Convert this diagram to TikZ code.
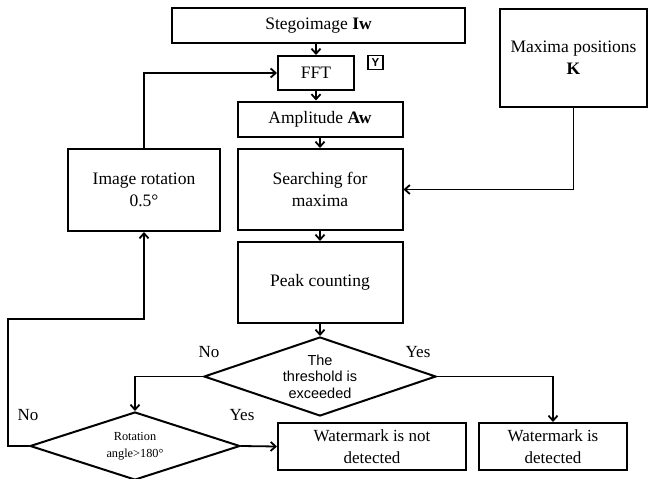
\documentclass[tikz,border=0pt]{standalone}
\usepackage{fontspec}
\setmainfont{Liberation Serif}
\setsansfont{Liberation Sans}
\usepackage{tikz}
\usetikzlibrary{arrows.meta, positioning, shapes.geometric}

\begin{document}
\begin{tikzpicture}[
    x=1pt, y=-1pt,
    box/.style={
        rectangle,
        draw=black,
        line width=2pt,
        align=center,
        inner sep=0pt,
        font=\fontsize{17.5}{22}\selectfont
    },
    decision/.style={
        diamond,
        draw=black,
        line width=2pt,
        align=center,
        inner sep=0pt
    },
    lbl/.style={font=\fontsize{17}{20}\selectfont},
    arrow/.style={-{Straight Barb[length=5pt,width=9pt]}, line width=1.8pt}
]
\useasboundingbox (0,0) rectangle (648,479);

% main column
\node[box, minimum width=293, minimum height=35] (stego) at (318.5,25.5) {Stegoimage \textbf{Iw}};
\node[box, minimum width=76, minimum height=34] (fft) at (316,73) {FFT};
\node[box, minimum width=15, minimum height=14, line width=1.5pt,
      font=\sffamily\bfseries\fontsize{11.5}{12}\selectfont] (ybox) at (375.5,62.5) {Y};
\node[box, minimum width=165, minimum height=35] (amp) at (320,119) {Amplitude \textbf{Aw}};
\node[box, minimum width=165, minimum height=81] (search) at (320,189.5) {Searching for\\maxima};
\node[box, minimum width=165, minimum height=81] (peak) at (320,282.5) {Peak counting};
\node[decision, aspect=2.9, minimum width=232, minimum height=79,
      font=\sffamily\fontsize{14.5}{16.5}\selectfont] (thresh) at (320,376.5) {The\\threshold is\\exceeded};

% side boxes
\node[box, minimum width=152, minimum height=82] (rot) at (144,190) {Image rotation\\0.5°};
\node[box, minimum width=147, minimum height=98] (maxpos) at (573.5,58) {Maxima positions\\\textbf{K}};

% bottom row
\node[decision, aspect=3, minimum width=210, minimum height=68,
      font=\fontsize{12.3}{17}\selectfont] (rotdiam) at (135,446) {Rotation\\angle>180°};
\node[box, minimum width=188, minimum height=47, font=\fontsize{17}{22}\selectfont] (notdet) at (372,446.5) {Watermark is not\\detected};
\node[box, minimum width=148, minimum height=47, font=\fontsize{17}{22}\selectfont] (det) at (553,446.5) {Watermark is\\detected};

\coordinate (loop) at (8,319);

\draw[arrow] (stego.south -| fft.north) -- (fft.north);
\draw[arrow] (fft.south) -- (fft.south |- amp.north);
\draw[arrow] (amp) -- (search);
\draw[arrow] (search) -- (peak);
\draw[arrow] (peak) -- (thresh);
\draw[arrow] (maxpos.south) |- (search.east);
\draw[arrow] (thresh.west) -| (rotdiam.north);
\draw[arrow] (thresh.east) -| (det.north);
\draw[arrow] (rotdiam.east) -- (notdet.west);
\draw[arrow] (rotdiam.west) -| (loop) -| (rot.south);
\draw[arrow] (rot.north) |- (fft.west);

\node[lbl] (no1) at (209,352) {No};
\node[lbl] (yes1) at (418,352) {Yes};
\node[lbl] (yes2) at (242,415) {Yes};
\node[lbl] (no2) at (28,415) {No};

\end{tikzpicture}
\end{document}
